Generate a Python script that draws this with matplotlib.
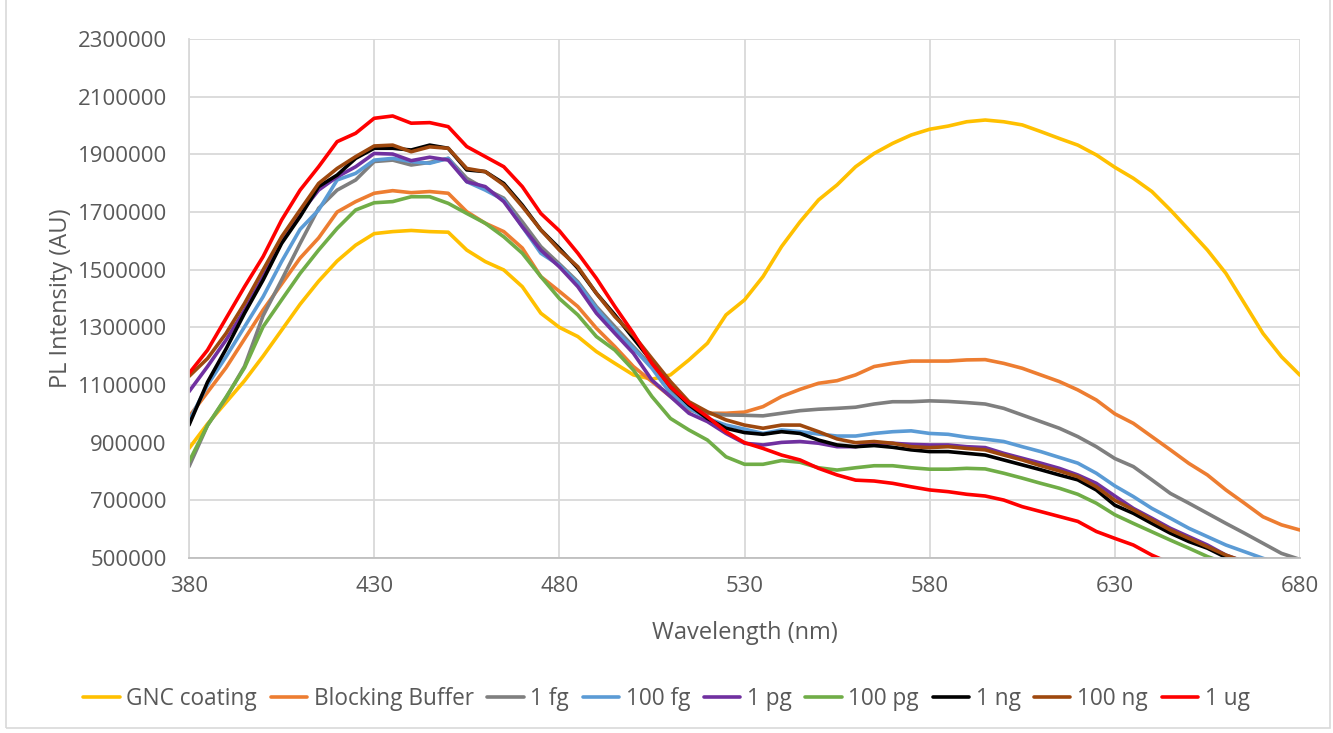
import matplotlib
matplotlib.use("Agg")
import matplotlib.pyplot as plt
from matplotlib.patches import Rectangle

plt.rcParams['font.family'] = ['Open Sans', 'DejaVu Sans']

# Emission wavelengths (nm)
wavelength = list(range(380, 681, 5))

gnc_coating = [880000, 965000, 1040000, 1115000, 1200000, 1290000, 1380000, 1460000, 1530000, 1585000,
               1625000, 1632000, 1636000, 1632000, 1630000, 1568000, 1528000, 1499000, 1441000, 1349000,
               1300000, 1268000, 1216000, 1175000, 1135000, 1120000, 1135000, 1187000, 1245000, 1343000,
               1395000, 1476000, 1580000, 1666000, 1742000, 1794000, 1857000, 1903000, 1938000, 1967000,
               1987000, 1998000, 2013000, 2019000, 2013000, 2002000, 1979000, 1955000, 1932000, 1898000,
               1855000, 1817000, 1771000, 1707000, 1638000, 1568000, 1487000, 1383000, 1279000, 1198000,
               1134000]

blocking_buffer = [990000, 1075000, 1160000, 1260000, 1360000, 1450000, 1540000, 1610000, 1700000, 1736000,
                   1765000, 1774000, 1767000, 1771000, 1765000, 1701000, 1661000, 1632000, 1575000, 1476000,
                   1425000, 1372000, 1297000, 1233000, 1164000, 1112000, 1060000, 1013000, 1002000, 1002000,
                   1006000, 1025000, 1060000, 1085000, 1106000, 1115000, 1135000, 1164000, 1175000, 1183000,
                   1183000, 1183000, 1187000, 1188000, 1175000, 1158000, 1135000, 1112000, 1083000, 1048000,
                   1000000, 967000, 921000, 875000, 828000, 788000, 736000, 690000, 643000, 615000,
                   597000]

fg_1 = [817000, 960000, 1055000, 1165000, 1340000, 1464000, 1591000, 1713000, 1776000, 1811000,
        1875000, 1880000, 1863000, 1872000, 1886000, 1817000, 1780000, 1748000, 1666000, 1580000,
        1520000, 1458000, 1372000, 1302000, 1233000, 1164000, 1083000, 1031000, 1002000, 996000,
        995000, 993000, 1002000, 1011000, 1016000, 1019000, 1023000, 1034000, 1042000, 1042000,
        1045000, 1043000, 1039000, 1034000, 1019000, 996000, 973000, 950000, 921000, 886000,
        845000, 817000, 771000, 724000, 690000, 655000, 620000, 586000, 551000, 516000,
        495000]

fg_100 = [975000, 1100000, 1198000, 1302000, 1406000, 1528000, 1640000, 1707000, 1811000, 1834000,
          1880000, 1886000, 1875000, 1869000, 1886000, 1805000, 1776000, 1742000, 1649000, 1557000,
          1515000, 1453000, 1366000, 1291000, 1227000, 1158000, 1071000, 1019000, 984000, 961000,
          947000, 932000, 944000, 938000, 930000, 923000, 923000, 932000, 938000, 941000,
          932000, 929000, 919000, 912000, 904000, 886000, 869000, 849000, 829000, 794000,
          750000, 713000, 672000, 638000, 603000, 574000, 545000, 522000, 499000, 478000,
          460000]

pg_1 = [1077000, 1164000, 1256000, 1360000, 1476000, 1603000, 1695000, 1776000, 1822000, 1857000,
        1903000, 1901000, 1878000, 1890000, 1880000, 1805000, 1788000, 1736000, 1649000, 1568000,
        1510000, 1441000, 1349000, 1279000, 1210000, 1117000, 1060000, 1002000, 973000, 932000,
        898000, 892000, 901000, 904000, 898000, 886000, 886000, 898000, 898000, 894000,
        892000, 892000, 886000, 883000, 863000, 846000, 829000, 811000, 788000, 759000,
        715000, 672000, 638000, 603000, 574000, 545000, 510000, 487000, 465000, 445000,
        425000]

pg_100 = [834000, 960000, 1058000, 1160000, 1302000, 1395000, 1487000, 1568000, 1643000, 1707000,
          1732000, 1736000, 1753000, 1753000, 1730000, 1695000, 1661000, 1614000, 1557000, 1476000,
          1400000, 1343000, 1268000, 1221000, 1152000, 1060000, 984000, 944000, 909000, 851000,
          825000, 825000, 838000, 832000, 813000, 805000, 813000, 820000, 820000, 813000,
          808000, 808000, 811000, 809000, 794000, 777000, 759000, 742000, 721000, 690000,
          650000, 620000, 591000, 562000, 534000, 505000, 482000, 460000, 440000, 420000,
          400000]

ng_1 = [961000, 1110000, 1225000, 1349000, 1464000, 1591000, 1684000, 1788000, 1828000, 1886000,
        1921000, 1921000, 1915000, 1932000, 1921000, 1846000, 1840000, 1799000, 1724000, 1638000,
        1574000, 1505000, 1418000, 1343000, 1262000, 1181000, 1094000, 1031000, 984000, 950000,
        935000, 929000, 938000, 932000, 909000, 892000, 886000, 890000, 884000, 875000,
        869000, 869000, 863000, 857000, 840000, 823000, 806000, 788000, 771000, 736000,
        683000, 655000, 620000, 586000, 557000, 534000, 502000, 480000, 460000, 440000,
        420000]

ng_100 = [1130000, 1192000, 1279000, 1383000, 1499000, 1614000, 1707000, 1799000, 1851000, 1892000,
          1929000, 1932000, 1909000, 1926000, 1921000, 1851000, 1840000, 1794000, 1719000, 1638000,
          1568000, 1510000, 1418000, 1337000, 1273000, 1192000, 1112000, 1042000, 1007000, 979000,
          961000, 950000, 961000, 961000, 938000, 913000, 900000, 904000, 898000, 886000,
          883000, 886000, 880000, 875000, 857000, 840000, 820000, 802000, 782000, 747000,
          700000, 667000, 632000, 597000, 568000, 539000, 510000, 487000, 465000, 445000,
          425000]

ug_1 = [1140000, 1221000, 1331000, 1441000, 1545000, 1672000, 1776000, 1857000, 1944000, 1973000,
        2025000, 2033000, 2008000, 2010000, 1996000, 1927000, 1892000, 1857000, 1788000, 1695000,
        1635000, 1557000, 1470000, 1372000, 1279000, 1175000, 1094000, 1036000, 990000, 938000,
        900000, 880000, 857000, 840000, 811000, 788000, 770000, 767000, 759000, 747000,
        736000, 730000, 721000, 715000, 701000, 678000, 661000, 644000, 627000, 592000,
        568000, 545000, 510000, 482000, 455000, 430000, 405000, 380000, 360000, 340000,
        320000]

series_labels = ["GNC coating", "Blocking Buffer", "1 fg", "100 fg", "1 pg",
                 "100 pg", "1 ng", "100 ng", "1 ug"]
series_values = [gnc_coating, blocking_buffer, fg_1, fg_100, pg_1,
                 pg_100, ng_1, ng_100, ug_1]
series_colors = ["#FFC000", "#ED7D31", "#7F7F7F", "#5B9BD5", "#7030A0",
                 "#70AD47", "#000000", "#9E480E", "#FF0000"]

x_ticks = list(range(380, 681, 50))
y_ticks = list(range(500000, 2300001, 200000))

text_color = "#595959"
grid_color = "#D9D9D9"

fig = plt.figure(figsize=(13.33, 7.33), dpi=100)
ax = fig.add_axes([189 / 1333, 1 - 558 / 733, (1300 - 189) / 1333, (558 - 39) / 733])

for vals, lab, col in zip(series_values, series_labels, series_colors):
    ax.plot(wavelength, vals, color=col, lw=2.6, label=lab,
            solid_joinstyle="round", solid_capstyle="round")

ax.set_xlim(380, 680)
ax.set_ylim(500000, 2300000)
ax.set_xticks(x_ticks)
ax.set_yticks(y_ticks)
ax.set_xticklabels([str(v) for v in x_ticks])
ax.set_yticklabels([str(v) for v in y_ticks])

ax.grid(True, color=grid_color, lw=1.3)
ax.set_axisbelow(True)
for side in ["top", "right"]:
    ax.spines[side].set_visible(False)
ax.spines["left"].set_color(grid_color)
ax.spines["left"].set_linewidth(1.3)
ax.spines["bottom"].set_color("#BFBFBF")
ax.spines["bottom"].set_linewidth(1.3)

ax.tick_params(axis="both", length=0, labelsize=16, colors=text_color)
ax.tick_params(axis="y", pad=16)
ax.tick_params(axis="x", pad=13)

ax.set_xlabel("Wavelength (nm)", fontsize=17, color=text_color, labelpad=17)
ax.set_ylabel("PL Intensity (AU)", fontsize=17, color=text_color, labelpad=3)

fig.legend(loc="center", bbox_to_anchor=(0.5, 1 - 699 / 733), ncol=9, frameon=False,
           fontsize=16.3, labelcolor=text_color, handlelength=1.6, handletextpad=0.3,
           columnspacing=0.6)

fig.patches.append(Rectangle((6 / 1333, 5 / 733), 1324 / 1333, 740 / 733,
                             transform=fig.transFigure, fill=False,
                             edgecolor=grid_color, lw=1.2))

fig.savefig("out.png", dpi=100)
